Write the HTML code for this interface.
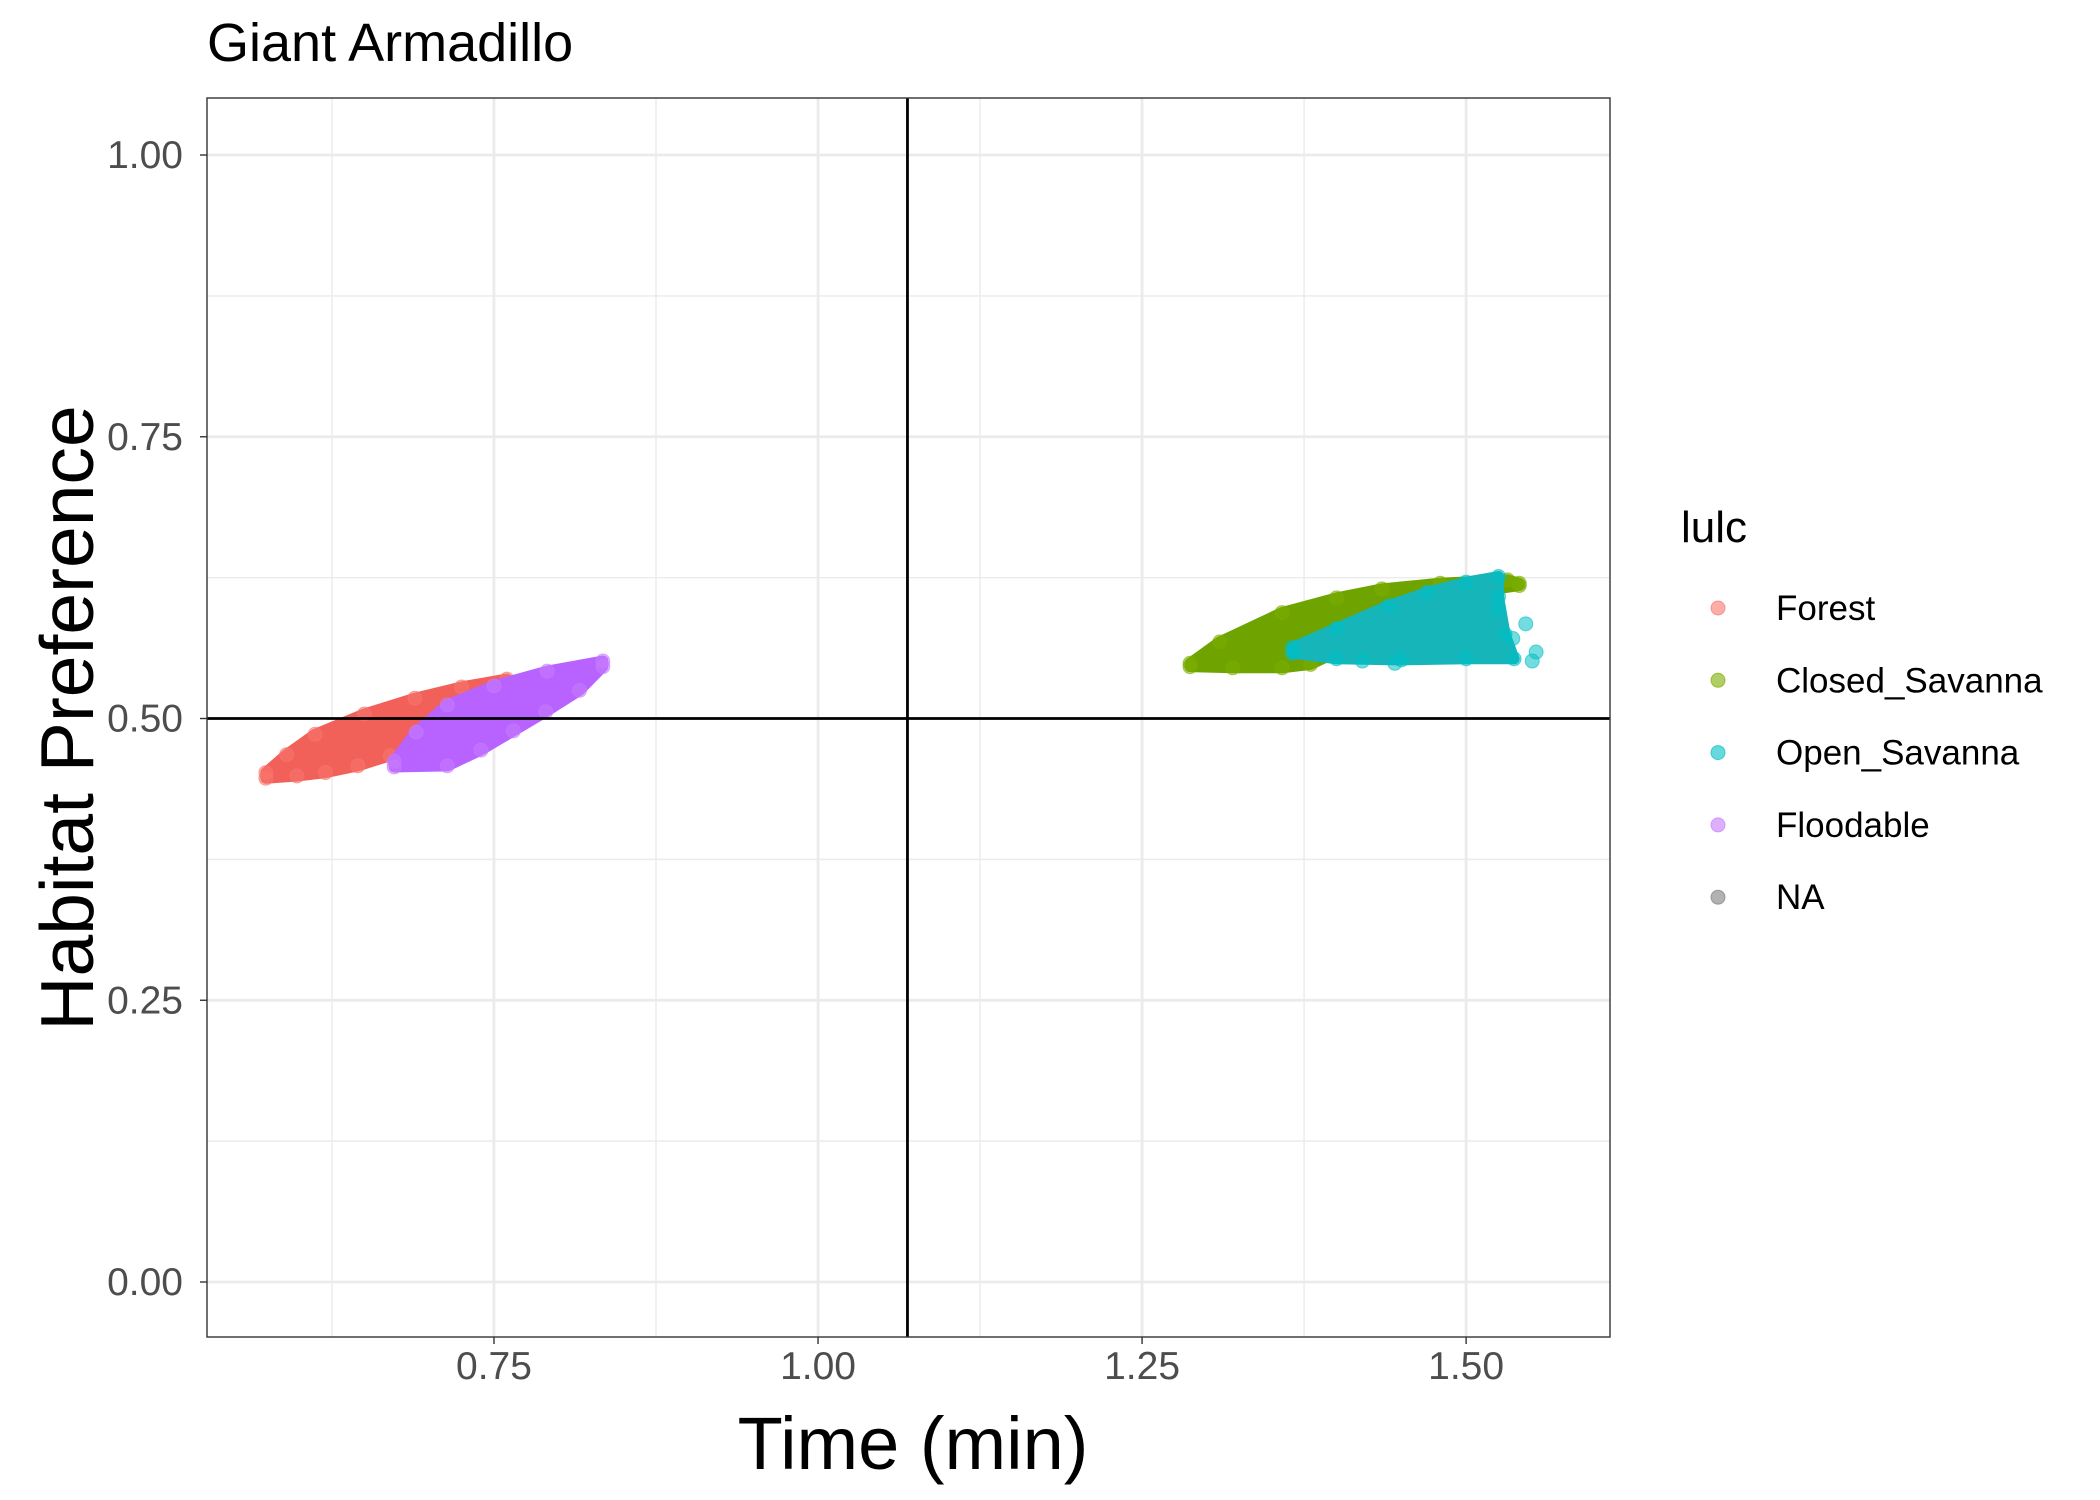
<!DOCTYPE html>
<html><head><meta charset="utf-8"><style>
html,body{margin:0;padding:0;background:#fff;}
svg{display:block;font-family:"Liberation Sans",Arial,sans-serif;}
</style></head><body>
<svg id="chart" width="2100" height="1500" viewBox="0 0 2100 1500">
<text x="207" y="61" font-size="54" fill="#000">Giant Armadillo</text>
<g id="grid"></g>
<g id="marks"></g>
<g id="refs"></g>
<rect x="207" y="98" width="1403" height="1239" fill="none" stroke="#333" stroke-width="1.4"/>
<g id="axes"></g>
<text x="913" y="1469" font-size="74" text-anchor="middle" fill="#000">Time (min)</text>
<text transform="translate(93,718) rotate(-90)" font-size="75" text-anchor="middle" fill="#000">Habitat Preference</text>
<g id="legend">
<text x="1681" y="542" font-size="44" fill="#000">lulc</text>
</g>
</svg>
<script>
const xTicks=[0.75,1.0,1.25,1.5];
const xTickLabels=["0.75","1.00","1.25","1.50"];
const yTicks=[0,0.25,0.5,0.75,1.0];
const yTickLabels=["0.00","0.25","0.50","0.75","1.00"];
const refX=1.069, refY=0.5;
const seriesNames=["Forest","Closed_Savanna","Open_Savanna","Floodable","NA"];
const forestUpper=[[0.574,0.452],[0.590,0.468],[0.612,0.486],[0.650,0.504],[0.689,0.518],[0.725,0.528],[0.760,0.535]];
const forestLower=[[0.574,0.447],[0.598,0.449],[0.620,0.452],[0.645,0.458],[0.670,0.467],[0.700,0.480],[0.730,0.495],[0.760,0.528]];
const floodUpper=[[0.673,0.462],[0.690,0.488],[0.714,0.512],[0.750,0.529],[0.791,0.542],[0.834,0.551]];
const floodLower=[[0.673,0.457],[0.714,0.458],[0.740,0.472],[0.765,0.489],[0.790,0.506],[0.816,0.525],[0.834,0.546]];
const closedUpper=[[1.287,0.549],[1.310,0.568],[1.358,0.594],[1.400,0.607],[1.435,0.615],[1.480,0.620],[1.532,0.623],[1.541,0.620]];
const closedLower=[[1.287,0.546],[1.320,0.545],[1.358,0.545],[1.380,0.548],[1.430,0.575],[1.470,0.600],[1.499,0.611],[1.541,0.618]];
const openUpper=[[1.366,0.563],[1.400,0.580],[1.440,0.600],[1.470,0.612],[1.500,0.621],[1.525,0.626]];
const openLower=[[1.366,0.558],[1.400,0.553],[1.450,0.552],[1.500,0.553],[1.537,0.553],[1.530,0.575],[1.525,0.608]];
const openOutliers=[[1.525,0.597],[1.546,0.584],[1.554,0.559],[1.551,0.551],[1.536,0.571],[1.445,0.549],[1.420,0.551]];
const naPoints=[];

const X0=207,X1=1610,Y0=98,Y1=1337,xmin=0.5286,xmax=1.611,ymin=-0.0488,ymax=1.0506;
const sx=v=>X0+(v-xmin)/(xmax-xmin)*(X1-X0);
const sy=v=>Y1-(v-ymin)/(ymax-ymin)*(Y1-Y0);
const NS="http://www.w3.org/2000/svg";
function mk(tag,parent,attrs){const e=document.createElementNS(NS,tag);for(const k in attrs)e.setAttribute(k,attrs[k]);parent.appendChild(e);return e;}
const grid=document.getElementById('grid'),marks=document.getElementById('marks'),refs=document.getElementById('refs'),axes=document.getElementById('axes'),legend=document.getElementById('legend');

for(let i=0;i<xTicks.length;i++){const m=mk('line',grid,{x1:sx(xTicks[i]-0.125),x2:sx(xTicks[i]-0.125),y1:Y0,y2:Y1,stroke:'#ebebeb','stroke-width':1.4});

}
for(let i=0;i<yTicks.length-1;i++){const m=mk('line',grid,{x1:X0,x2:X1,y1:sy(yTicks[i]+0.125),y2:sy(yTicks[i]+0.125),stroke:'#ebebeb','stroke-width':1.4});

}
xTicks.forEach((t,i)=>{
const g=mk('line',grid,{x1:sx(t),x2:sx(t),y1:Y0,y2:Y1,stroke:'#ebebeb','stroke-width':2.8});


const k=mk('line',axes,{x1:sx(t),x2:sx(t),y1:Y1,y2:Y1+7,stroke:'#333','stroke-width':1.4});


const l=mk('text',axes,{x:sx(t),y:Y1+42,'font-size':39,'text-anchor':'middle',fill:'#4d4d4d'});l.textContent=xTickLabels[i];


});
yTicks.forEach((t,i)=>{
const g=mk('line',grid,{x1:X0,x2:X1,y1:sy(t),y2:sy(t),stroke:'#ebebeb','stroke-width':2.8});


const k=mk('line',axes,{x1:X0-7,x2:X0,y1:sy(t),y2:sy(t),stroke:'#333','stroke-width':1.4});


const l=mk('text',axes,{x:183,y:sy(t)+13,'font-size':39,'text-anchor':'end',fill:'#4d4d4d'});l.textContent=yTickLabels[i];


});

function band(upper,lower,extra,fill,col,name){
const g=mk('g',marks,{});


const pts=upper.concat(lower.slice().reverse()).map(p=>sx(p[0])+','+sy(p[1])).join(' ');
const poly=mk('polygon',g,{points:pts,fill:fill,stroke:fill,'stroke-width':11,'stroke-linejoin':'round'});


upper.concat(lower,extra).forEach(p=>{
const c=mk('circle',g,{cx:sx(p[0]),cy:sy(p[1]),r:7,fill:col,'fill-opacity':0.55,stroke:col,'stroke-opacity':0.6,'stroke-width':1});


});
}
band(forestUpper,forestLower,[],'#f2605a','#F8766D','forest');
band(floodUpper,floodLower,[],'#b862ff','#C77CFF','floodable');
band(closedUpper,closedLower,[],'#6ea300','#7CAE00','closed-savanna');
band(openUpper,openLower,openOutliers,'#15b5ba','#00BFC4','open-savanna');

const vl=mk('line',refs,{x1:sx(refX),x2:sx(refX),y1:Y0,y2:Y1,stroke:'#000','stroke-width':2.8});


const hl=mk('line',refs,{x1:X0,x2:X1,y1:sy(refY),y2:sy(refY),stroke:'#000','stroke-width':2.8});



const legCols=['#F8766D','#7CAE00','#00BFC4','#C77CFF','#7f7f7f'];
seriesNames.forEach((n,i)=>{
const y=608+i*72.3;
const g=mk('g',legend,{});


const c=mk('circle',g,{cx:1718,cy:y,r:7,fill:legCols[i],'fill-opacity':0.6,stroke:legCols[i],'stroke-opacity':0.7,'stroke-width':1});


const t=mk('text',g,{x:1776,y:y+12,'font-size':35,fill:'#000'});t.textContent=n;


});
</script>
</body></html>
